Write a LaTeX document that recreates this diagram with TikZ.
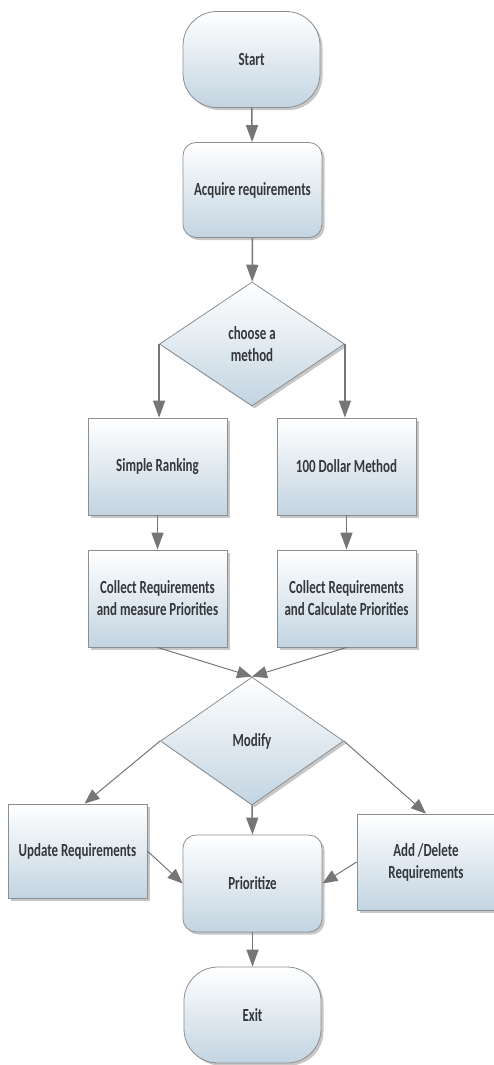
\documentclass[tikz,border=0pt]{standalone}
\usepackage{fontspec}
\newfontfamily\boxfont{Carlito}[FakeStretch=0.70]
\usetikzlibrary{shapes.geometric, arrows.meta, shadows}

\definecolor{boxline}{HTML}{8A8F94}
\definecolor{boxblue}{HTML}{C3D4E1}
\definecolor{txt}{HTML}{35383B}
\definecolor{arrowgray}{HTML}{767676}

\tikzset{
  base/.style={draw=boxline, line width=0.8pt, top color=white, bottom color=boxblue,
    font=\boxfont\fontsize{18.5}{22}\selectfont\bfseries, text=txt, align=center, inner sep=0pt,
    drop shadow={shadow xshift=2.5pt, shadow yshift=-2.5pt, opacity=0.4, fill=black!55}},
  term/.style={base, rectangle, rounded corners=34pt, minimum width=137pt, minimum height=96pt},
  proc/.style={base, rectangle, rounded corners=13pt, minimum width=139pt, minimum height=95pt},
  plainbox/.style={base, rectangle, minimum width=139pt, minimum height=97pt},
  decision/.style={base, diamond, minimum width=185pt, minimum height=124pt},
  flow/.style={draw=arrowgray, line width=1.5pt, -{Triangle[length=17pt,width=12pt]}},
  thinflow/.style={draw=arrowgray, line width=1pt, -{Triangle[length=15pt,width=12pt]}},
}

\begin{document}
\begin{tikzpicture}[x=1pt, y=-1pt]
  % page area
  \fill[white] (0,0) rectangle (493,1065);
  \useasboundingbox (0,0) rectangle (493,1065);

  % nodes
  \node[term]     (start)    at (251.5, 59.5)  {Start};
  \node[proc]     (acquire)  at (252.5, 190)   {Acquire requirements};
  \node[decision] (choose)   at (252, 344)     {choose a\\method};
  \node[plainbox] (simple)   at (157.5, 466.5) {Simple Ranking};
  \node[plainbox] (dollar)   at (346.5, 466.5) {100 Dollar Method};
  \node[plainbox] (collectA) at (157.5, 598.5) {Collect Requirements\\and measure Priorities};
  \node[plainbox] (collectB) at (346.5, 598.5) {Collect Requirements\\and Calculate Priorities};
  \node[decision, minimum width=183pt, minimum height=128pt] (modify) at (252, 741) {Modify};
  \node[plainbox, minimum height=94pt] (update) at (77.5, 851) {Update Requirements};
  \node[plainbox, minimum width=138pt, minimum height=96pt] (add) at (426, 862) {Add /Delete\\Requirements};
  \node[proc, minimum height=97pt] (prior) at (252.5, 883.5) {Prioritize};
  \node[term]     (exit)     at (252.5, 1015)  {Exit};

  % connectors
  \draw[flow] (start) -- (acquire);
  \draw[flow] (acquire) -- (choose);
  \draw[flow] (choose.west) -- (choose.west |- simple.north);
  \draw[flow] (choose.east) -- (choose.east |- dollar.north);
  \draw[flow] (simple) -- (collectA);
  \draw[flow] (dollar) -- (collectB);
  \draw[thinflow] (collectA.south) -- (modify.north);
  \draw[thinflow] (collectB.south) -- (modify.north);
  \draw[thinflow] (modify.west) -- ([xshift=7pt]update.north);
  \draw[thinflow] (modify.east) -- (add.north);
  \draw[flow] (modify.south) -- (prior.north);
  \draw[thinflow] (update.east) -- (prior.west);
  \draw[thinflow] (add.west) -- (prior.east);
  \draw[flow] (prior) -- (exit);
\end{tikzpicture}
\end{document}
